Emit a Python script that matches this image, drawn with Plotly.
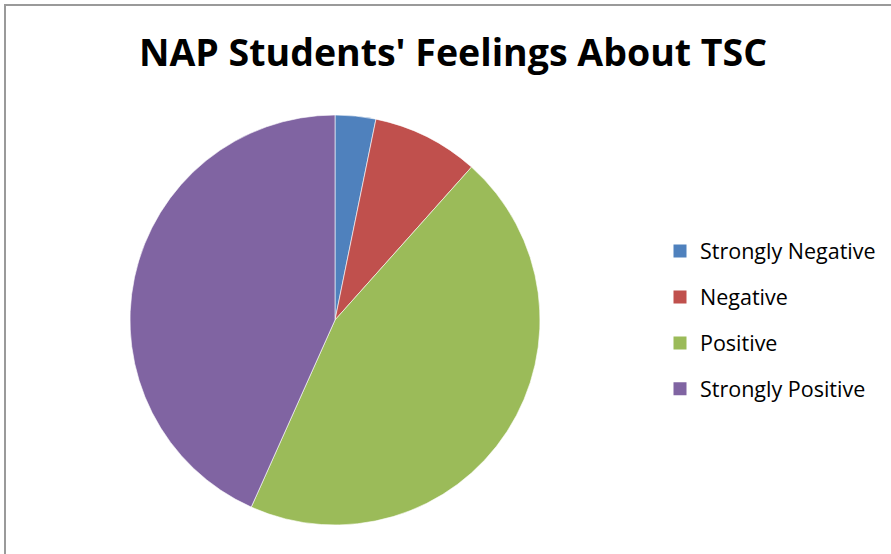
import plotly.graph_objects as go

labels = ["Strongly Negative", "Negative", "Positive", "Strongly Positive"]
values = [3.2, 8.4, 45.1, 43.3]
colors = ["#4F81BD", "#C0504D", "#9BBB59", "#8064A2"]
title_text = "NAP Students' Feelings About TSC"

W, H = 891, 554
cx, cy, r = 335, 320, 205

fig = go.Figure()
fig.add_trace(go.Pie(
    labels=labels, values=values, sort=False, direction="clockwise", rotation=0,
    marker=dict(colors=colors, line=dict(color="white", width=0.6)),
    textinfo="none", hoverinfo="label+percent", showlegend=False,
    domain=dict(x=[(cx - r) / W, (cx + r) / W], y=[(H - cy - r) / H, (H - cy + r) / H]),
))
for lab, col in zip(labels, colors):
    fig.add_trace(go.Scatter(
        x=[None], y=[None], mode="markers", name=lab, legendgroup=lab,
        marker=dict(symbol="square", size=13, color=col),
    ))

fig.update_layout(
    width=W, height=H,
    margin=dict(l=0, r=0, t=0, b=0),
    paper_bgcolor="white", plot_bgcolor="white",
    title=dict(text="<b>" + title_text + "</b>", x=453 / W, xanchor="center",
               y=1 - 53 / H, yanchor="middle",
               font=dict(family="Open Sans", size=37.5, color="black")),
    xaxis=dict(visible=False), yaxis=dict(visible=False),
    legend=dict(x=660 / W, xanchor="left", y=1 - 320 / H, yanchor="middle",
                font=dict(family="Open Sans", size=21.5, color="black"),
                tracegroupgap=15, itemwidth=30, bgcolor="rgba(0,0,0,0)"),
    shapes=[dict(type="rect", xref="paper", yref="paper",
                 x0=5 / W, x1=1.02, y0=-0.02, y1=1 - 5 / H,
                 line=dict(color="#9a9a9a", width=2), fillcolor="rgba(0,0,0,0)")],
)
fig.write_html("out.html")
